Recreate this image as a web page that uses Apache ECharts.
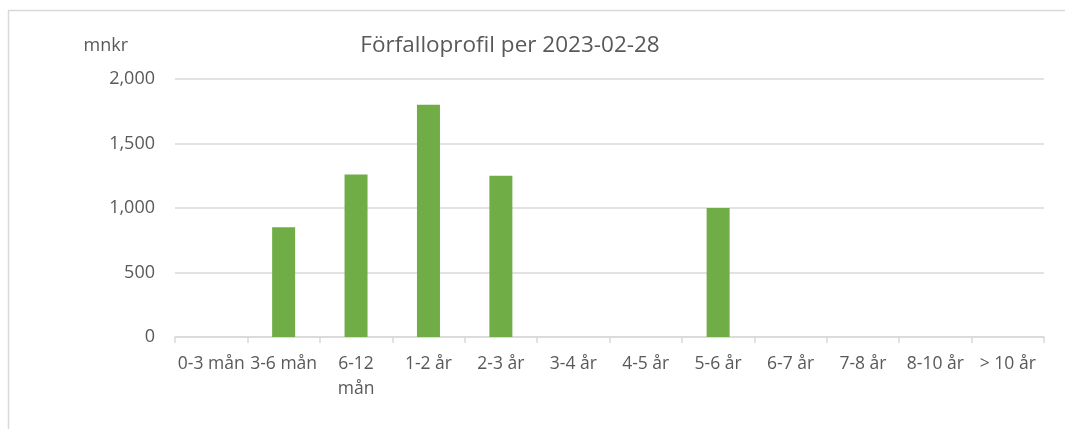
<!DOCTYPE html>
<html>
<head>
<meta charset="utf-8">
<script src="https://cdn.jsdelivr.net/npm/echarts@6/dist/echarts.min.js"></script>
<style>
  html, body { margin: 0; padding: 0; background: #fff; }
  #chart { width: 1065px; height: 429px; }
</style>
</head>
<body>
<div id="chart"></div>
<script>
// förfalloprofil, mnkr
var categories = ['0-3 mån', '3-6 mån', '6-12 mån', '1-2 år', '2-3 år', '3-4 år', '4-5 år', '5-6 år', '6-7 år', '7-8 år', '8-10 år', '> 10 år'];
var values = [0, 850, 1260, 1800, 1250, 0, 0, 1000, 0, 0, 0, 0];
var yTicks = [0, 500, 1000, 1500, 2000];

var textColor = '#595959';
var lineColor = '#d9d9d9';
var font = 'Open Sans';

var myChart = echarts.init(document.getElementById('chart'));
var option = {
  animation: false,
  title: {
    text: 'Förfalloprofil per 2023-02-28',
    left: 505,
    top: 29,
    textAlign: 'center',
    textStyle: { color: textColor, fontSize: 22.5, fontWeight: 'normal', fontFamily: font }
  },
  graphic: [{
    type: 'rect',
    shape: { x: 8.5, y: 10.5, width: 1070, height: 440 },
    style: { fill: 'none', stroke: lineColor, lineWidth: 1.5 },
    silent: true
  }],
  grid: { left: 175, right: 21, top: 79, bottom: 92 },
  xAxis: {
    type: 'category',
    data: categories,
    axisLine: { lineStyle: { color: lineColor, width: 1.5 } },
    axisTick: { show: true, length: 6, lineStyle: { color: lineColor, width: 1.5 } },
    axisLabel: {
      color: textColor,
      fontSize: 17.5,
      fontFamily: font,
      margin: 15,
      lineHeight: 25,
      interval: 0,
      formatter: function (v) { return v === '6-12 mån' ? '6-12\nmån' : v; }
    }
  },
  yAxis: {
    type: 'value',
    min: yTicks[0],
    max: yTicks[yTicks.length - 1],
    interval: 500,
    name: 'mnkr',
    nameGap: 24,
    nameTextStyle: { color: textColor, fontSize: 18, fontFamily: font, align: 'right', padding: [0, 47, 0, 0] },
    axisLine: { show: false },
    axisTick: { show: false },
    splitLine: { lineStyle: { color: lineColor, width: 1.5 } },
    axisLabel: {
      color: textColor,
      fontSize: 18,
      fontFamily: font,
      margin: 20,
      formatter: function (v) { return v.toLocaleString('en-US'); }
    }
  },
  series: [{
    type: 'bar',
    data: values,
    barWidth: 23,
    itemStyle: { color: '#70ad47' }
  }]
};
myChart.setOption(option);
</script>
</body>
</html>
